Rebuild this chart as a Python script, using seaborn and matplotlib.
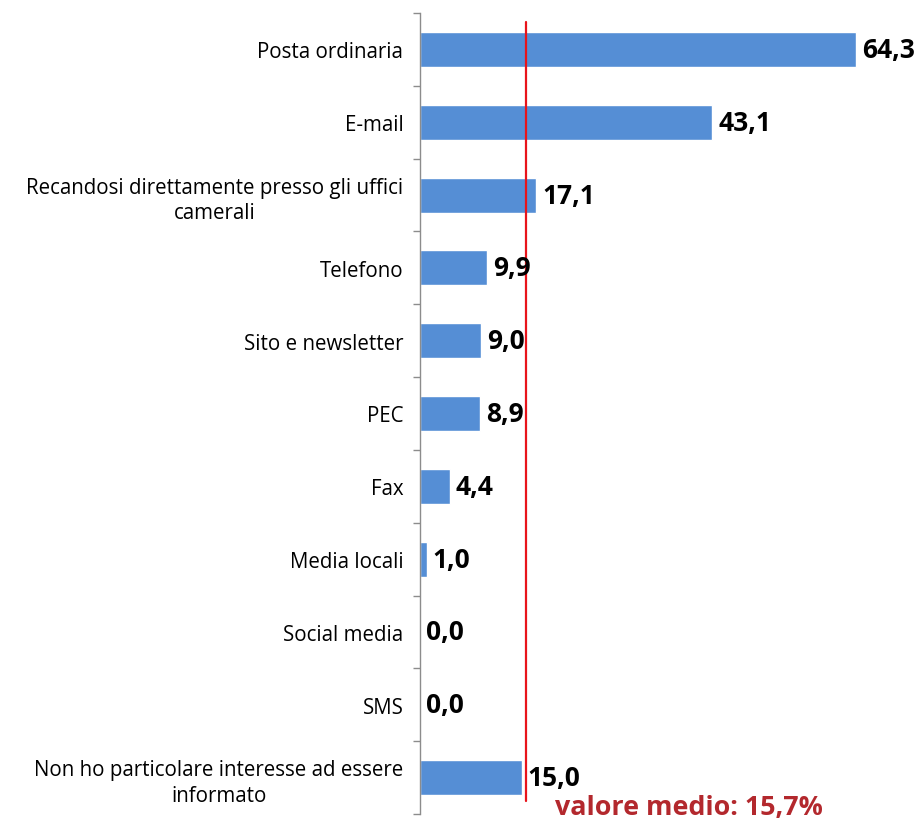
import matplotlib
matplotlib.use("Agg")
import matplotlib.pyplot as plt
import seaborn as sns
import numpy as np

categories = [
    "Posta ordinaria",
    "E-mail",
    "Recandosi direttamente presso gli uffici\ncamerali",
    "Telefono",
    "Sito e newsletter",
    "PEC",
    "Fax",
    "Media locali",
    "Social media",
    "SMS",
    "Non ho particolare interesse ad essere\ninformato",
]
values = [64.3, 43.1, 17.1, 9.9, 9.0, 8.9, 4.4, 1.0, 0.0, 0.0, 15.0]
mean_value = 15.7
mean_label = "valore medio: 15,7%"

sns.set_style("white")
plt.rcParams["font.family"] = ["Open Sans", "DejaVu Sans"]

W, H = 921, 820
fig = plt.figure(figsize=(W / 100, H / 100), dpi=100)
ax = fig.add_axes([420 / W, 5 / H, 480 / W, 801 / H])

sns.barplot(x=values, y=categories, orient="h", color="#558ED5",
            width=0.48, saturation=1, ax=ax)

scale_px = 6.78
ax.set_xlim(0, 480 / scale_px)
ax.set_ylim(len(categories) - 0.5, -0.5)

ax.axvline(mean_value, ymin=(815 - 802) / 801, ymax=(815 - 23) / 801,
           color="#E8141B", lw=1.6, zorder=3)

for i, v in enumerate(values):
    ax.text(v + 0.9, i, f"{v:.1f}".replace(".", ","), va="center", ha="left",
            fontsize=19, fontweight="bold", color="black", zorder=4)

fig.text(555 / W, 1 - 808 / H, mean_label, color="#B3282D", fontsize=19.4,
         fontweight="bold", ha="left", va="center")

for s in ["top", "right", "bottom"]:
    ax.spines[s].set_visible(False)
ax.spines["left"].set_color("#8C8C8C")
ax.spines["left"].set_linewidth(1.0)

ax.set_xticks([])
ax.set_yticks(range(len(categories)))
ax.set_yticklabels(categories, fontsize=14.8, multialignment="center",
                   color="black", linespacing=1.3)
ax.tick_params(axis="y", which="major", length=0, pad=12, left=False)
ax.set_yticks(np.arange(-0.5, len(categories), 1), minor=True)
ax.tick_params(axis="y", which="minor", length=5, color="#8C8C8C", width=1.0,
               direction="out", left=True)
ax.set_xlabel("")
ax.set_ylabel("")

fig.savefig("out.png", dpi=100)
